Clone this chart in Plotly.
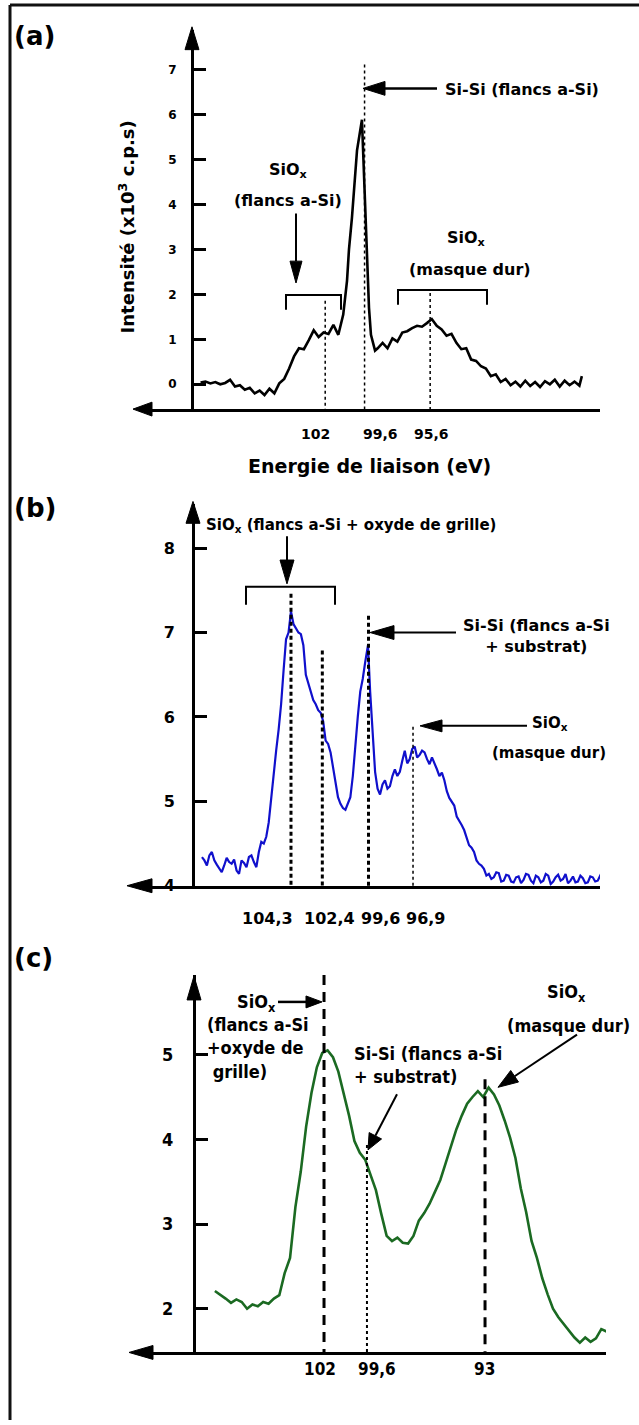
import math
import plotly.graph_objects as go

W, H = 639, 1425

# ---------------- data ----------------
energy_a = [109.6, 109.3, 109.0, 108.7, 108.4, 108.1, 107.8, 107.5, 107.2, 106.9,
            106.6, 106.3, 106.0, 105.7, 105.4, 105.1, 104.8, 104.5, 104.2, 103.9,
            103.6, 103.3, 103.0, 102.7, 102.4, 102.1, 101.8, 101.5, 101.2, 100.9,
            100.67, 100.55, 100.37, 100.06, 99.76, 99.45, 99.33, 99.21, 98.96,
            98.8, 98.5, 98.2, 97.9, 97.6, 97.3, 97.0, 96.7, 96.4, 96.1,
            95.8, 95.5, 95.2, 94.9, 94.6, 94.3, 94.0, 93.7, 93.4, 93.1,
            92.8, 92.5, 92.2, 91.9, 91.6, 91.3, 91.0, 90.7, 90.4, 90.1,
            89.8, 89.5, 89.2, 88.9, 88.6, 88.3, 88.0, 87.7, 87.4, 87.1,
            86.8, 86.5, 86.35]
intensity_a = [0.04, 0.06, 0.02, 0.05, 0.00, 0.03, 0.10, -0.05, -0.02, -0.12,
               -0.08, -0.20, -0.14, -0.24, -0.10, -0.20, 0.02, 0.12, 0.35, 0.62,
               0.80, 0.78, 0.98, 1.20, 1.05, 1.15, 1.12, 1.32, 1.10, 1.55,
               2.30, 3.00, 3.70, 5.20, 5.88, 3.00, 1.70, 1.10, 0.75,
               0.80, 0.92, 0.80, 1.02, 0.95, 1.15, 1.18, 1.25, 1.30, 1.28,
               1.36, 1.45, 1.30, 1.22, 1.08, 1.12, 0.92, 0.78, 0.80, 0.55,
               0.52, 0.40, 0.35, 0.18, 0.22, 0.05, 0.12, -0.02, 0.06, -0.05,
               0.08, -0.04, 0.05, -0.06, 0.07, 0.00, 0.10, -0.05, 0.08, -0.02,
               0.06, -0.03, 0.18]

energy_b = [109.70, 109.55, 109.40, 109.25, 109.10, 108.95, 108.80, 108.65, 108.50, 108.35,
            108.20, 108.05, 107.90, 107.75, 107.60, 107.45, 107.30, 107.15, 107.00, 106.85,
            106.70, 106.55, 106.40, 106.25, 106.10, 105.95, 105.80, 105.65, 105.50, 105.35,
            105.20, 105.05, 104.90, 104.75, 104.60, 104.45, 104.30, 104.15, 104.00, 103.85,
            103.70, 103.55, 103.40, 103.25, 103.10, 102.95, 102.80, 102.65, 102.50, 102.35,
            102.20, 102.05, 101.90, 101.75, 101.60, 101.45, 101.30, 101.15, 101.00, 100.85,
            100.70, 100.55, 100.40, 100.25, 100.10, 99.95, 99.80, 99.63, 99.50, 99.35,
            99.20, 99.05, 98.90, 98.75, 98.60, 98.45, 98.30, 98.15, 98.00, 97.85,
            97.70, 97.55, 97.40, 97.25, 97.10, 96.95, 96.80, 96.65, 96.50, 96.35,
            96.20, 96.05, 95.90, 95.75, 95.60, 95.45, 95.30, 95.15, 95.00, 94.85,
            94.70, 94.55, 94.40, 94.25, 94.10, 93.95, 93.80, 93.65, 93.50, 93.35,
            93.20, 93.05, 92.90, 92.75, 92.60, 92.45, 92.30, 92.15, 92.00, 91.85,
            91.70, 91.55, 91.40, 91.25, 91.10, 90.95, 90.80, 90.65, 90.50, 90.35,
            90.20, 90.05, 89.90, 89.75, 89.60, 89.45, 89.30, 89.15, 89.00, 88.85,
            88.70, 88.55, 88.40, 88.25, 88.10, 87.95, 87.80, 87.65, 87.50, 87.35,
            87.20, 87.05, 86.90, 86.75, 86.60, 86.45, 86.30, 86.15, 86.00, 85.85,
            85.70, 85.55, 85.40]
intensity_b = [4.34, 4.30, 4.24, 4.36, 4.40, 4.30, 4.25, 4.20, 4.16, 4.24,
               4.33, 4.28, 4.26, 4.31, 4.18, 4.14, 4.30, 4.27, 4.22, 4.34,
               4.36, 4.28, 4.22, 4.40, 4.52, 4.50, 4.58, 4.75, 5.05, 5.30,
               5.60, 5.85, 6.15, 6.55, 6.92, 7.00, 7.25, 7.10, 7.05, 7.00,
               6.98, 6.85, 6.50, 6.40, 6.28, 6.20, 6.15, 6.08, 6.05, 5.95,
               5.72, 5.68, 5.58, 5.40, 5.25, 5.05, 4.97, 4.92, 4.90, 4.98,
               5.05, 5.30, 5.70, 6.00, 6.30, 6.45, 6.65, 6.85, 6.30, 5.80,
               5.35, 5.15, 5.08, 5.20, 5.25, 5.15, 5.18, 5.30, 5.38, 5.30,
               5.35, 5.48, 5.60, 5.45, 5.50, 5.62, 5.65, 5.52, 5.55, 5.60,
               5.58, 5.50, 5.44, 5.52, 5.46, 5.38, 5.30, 5.34, 5.25, 5.12,
               5.04, 5.00, 4.95, 4.82, 4.76, 4.72, 4.66, 4.56, 4.48, 4.45,
               4.40, 4.30, 4.26, 4.24, 4.20, 4.12, 4.14, 4.08, 4.10, 4.16,
               4.15, 4.05, 4.06, 4.13, 4.12, 4.05, 4.04, 4.10, 4.11, 4.03,
               4.07, 4.14, 4.13, 4.06, 4.03, 4.12, 4.10, 4.04, 4.06, 4.14,
               4.12, 4.02, 4.05, 4.10, 4.13, 4.06, 4.08, 4.14, 4.03, 4.06,
               4.11, 4.04, 4.05, 4.12, 4.09, 4.03, 4.04, 4.11, 4.10, 4.05,
               4.06, 4.12, 4.09]

energy_c = [108.1, 107.8, 107.5, 107.2, 106.9, 106.6, 106.3, 106.0, 105.7, 105.4,
            105.1, 104.8, 104.5, 104.2, 103.9, 103.6, 103.3, 103.0, 102.7, 102.4,
            102.1, 101.8, 101.5, 101.2, 100.9, 100.6, 100.3, 100.0, 99.7, 99.4,
            99.1, 98.8, 98.5, 98.2, 97.9, 97.6, 97.3, 97.0, 96.7, 96.4,
            96.1, 95.8, 95.5, 95.2, 94.9, 94.6, 94.3, 94.0, 93.7, 93.4,
            93.1, 92.8, 92.5, 92.2, 91.9, 91.6, 91.3, 91.0, 90.7, 90.4,
            90.1, 89.8, 89.5, 89.2, 88.9, 88.6, 88.3, 88.0, 87.7, 87.4,
            87.1, 86.8, 86.5, 86.2]
intensity_c = [2.21, 2.17, 2.12, 2.07, 2.11, 2.08, 2.00, 2.05, 2.03, 2.08,
               2.06, 2.12, 2.16, 2.42, 2.60, 3.20, 3.62, 4.15, 4.55, 4.85,
               5.02, 5.05, 4.97, 4.80, 4.55, 4.28, 3.98, 3.84, 3.76, 3.58,
               3.40, 3.12, 2.86, 2.80, 2.84, 2.78, 2.77, 2.86, 3.04, 3.13,
               3.24, 3.38, 3.52, 3.72, 3.92, 4.12, 4.28, 4.42, 4.50, 4.57,
               4.50, 4.61, 4.53, 4.40, 4.22, 4.02, 3.78, 3.42, 3.14, 2.80,
               2.60, 2.36, 2.17, 2.00, 1.90, 1.82, 1.74, 1.66, 1.60, 1.66,
               1.61, 1.65, 1.76, 1.73]

yticks_a = [0, 1, 2, 3, 4, 5, 6, 7]
yticks_b = [4, 5, 6, 7, 8]
yticks_c = [2, 3, 4, 5]

peaks_a = [102, 99.6, 95.6]
peak_labels_a = ["102", "99,6", "95,6"]
peaks_b = [104.3, 102.4, 99.6, 96.9]
peak_labels_b = ["104,3", "102,4", "99,6", "96,9"]
peaks_c = [102, 99.6, 93]
peak_labels_c = ["102", "99,6", "93"]

# ---------------- helpers ----------------
def X(px):
    return px / W


def Y(py):
    return 1 - py / H


FONT = "DejaVu Sans"
FONT_C = "DejaVu Sans Condensed, DejaVu Sans"

shapes = []
annotations = []


def seg(x0, y0, x1, y1, width=2, dash=None, color="black"):
    shapes.append(dict(type="line", xref="paper", yref="paper",
                       x0=X(x0), y0=Y(y0), x1=X(x1), y1=Y(y1),
                       line=dict(color=color, width=width, dash=dash)))


def head(tip, tail, length, half):
    tx, ty = tip
    sx, sy = tail
    dx, dy = tx - sx, ty - sy
    n = math.hypot(dx, dy)
    ux, uy = dx / n, dy / n
    bx, by = tx - ux * length, ty - uy * length
    ox, oy = -uy * half, ux * half
    pts = [(tx, ty), (bx + ox, by + oy), (bx - ox, by - oy)]
    path = "M " + " L ".join(f"{X(a):.6f},{Y(b):.6f}" for a, b in pts) + " Z"
    shapes.append(dict(type="path", xref="paper", yref="paper", path=path,
                       fillcolor="black", line=dict(color="black", width=1)))
    return bx, by


def arrow(tail, tip, width, length, half):
    bx, by = head(tip, tail, length, half)
    seg(tail[0], tail[1], bx, by, width=width)


def bracket(x0, x1, ytop, yleg, width=2):
    path = (f"M {X(x0):.6f},{Y(yleg):.6f} L {X(x0):.6f},{Y(ytop):.6f} "
            f"L {X(x1):.6f},{Y(ytop):.6f} L {X(x1):.6f},{Y(yleg):.6f}")
    shapes.append(dict(type="path", xref="paper", yref="paper", path=path,
                       line=dict(color="black", width=width)))


def text(px, py, s, size, family=FONT, xanchor="center", yanchor="middle",
         align="center", angle=0):
    annotations.append(dict(xref="paper", yref="paper", x=X(px), y=Y(py),
                            text=s, showarrow=False, xanchor=xanchor,
                            yanchor=yanchor, align=align, textangle=angle,
                            font=dict(family=family, size=size, color="black",
                                      weight="bold")))


def vline(xref, energy, ytop, ybot, width, dash):
    shapes.append(dict(type="line", xref=xref, yref="paper", x0=energy, x1=energy,
                       y0=Y(ytop), y1=Y(ybot),
                       line=dict(color="black", width=width, dash=dash)))


def xlabel(xref, energy, label, py, size, shift, family=FONT):
    annotations.append(dict(xref=xref, yref="paper", x=energy, y=Y(py), text=label,
                            showarrow=False, xanchor="center", yanchor="middle",
                            xshift=shift,
                            font=dict(family=family, size=size, color="black",
                                      weight="bold")))


fig = go.Figure()
fig.add_trace(go.Scatter(x=energy_a, y=intensity_a, xaxis="x", yaxis="y",
                         mode="lines", line=dict(color="black", width=2.6),
                         hoverinfo="skip"))
fig.add_trace(go.Scatter(x=energy_b, y=intensity_b, xaxis="x2", yaxis="y2",
                         mode="lines", line=dict(color="#1010cc", width=2.2),
                         hoverinfo="skip"))
fig.add_trace(go.Scatter(x=energy_c, y=intensity_c, xaxis="x3", yaxis="y3",
                         mode="lines", line=dict(color="#1b6a22", width=2.6),
                         hoverinfo="skip"))


def xax(d0, d1, r0, r1, anchor):
    return dict(domain=[X(d0), X(d1)], range=[r0, r1], anchor=anchor,
                showline=True, linecolor="black", linewidth=3, showgrid=False,
                zeroline=False, ticks="", showticklabels=False, fixedrange=True)


def yax(top, bottom, r0, r1, pos, vals, size, standoff, family=FONT):
    return dict(domain=[Y(bottom), Y(top)], range=[r0, r1], anchor="free",
                position=X(pos), showline=True, linecolor="black", linewidth=3,
                showgrid=False, zeroline=False, ticks="inside", ticklen=12,
                tickwidth=2.5, tickcolor="black", tickvals=vals,
                tickfont=dict(family=family, size=size, color="black", weight="bold"),
                ticklabelstandoff=standoff, fixedrange=True)


fig.update_layout(
    width=W, height=H, margin=dict(l=0, r=0, t=0, b=0),
    paper_bgcolor="white", plot_bgcolor="rgba(0,0,0,0)", showlegend=False,
    xaxis=xax(140, 600, (1998 - 140) / 16.4, (1998 - 600) / 16.4, "y"),
    yaxis=yax(30, 412, (387 - 412) / 45.3, (387 - 30) / 45.3, 192, yticks_a, 12, 12),
    xaxis2=xax(140, 600, (2010.9 - 140) / 16.49, (2010.9 - 600) / 16.49, "y2"),
    yaxis2=yax(508, 892, 4, 4 + (892 - 508) / 85, 193, yticks_b, 16, 14),
    xaxis3=xax(140, 606, (2148.8 - 140) / 17.89, (2148.8 - 606) / 17.89, "y3"),
    yaxis3=yax(982, 1362, 2 - 44 / 85.3, 2 + (1318 - 982) / 85.3, 194, yticks_c, 18, 16, FONT_C),
)

# ---------------- frame ----------------
seg(10, 1430, 10, 5, width=3, color="#111111")
seg(10, 5, 650, 5, width=3, color="#111111")

# ---------------- panel (a) ----------------
text(12, 36, "(a)", 26, xanchor="left")
head((192, 27), (192, 60), 23, 7)
head((133, 412), (160, 412), 19, 7)
for e, top in zip(peaks_a, [303, 65, 295]):
    vline("x", e, top, 412, 1.5, "3px,3px")
for e, lab, sh in zip(peaks_a, peak_labels_a, [-10, 16, 1]):
    xlabel("x", e, lab, 437, 14, sh)
text(369, 469, "Energie de liaison (eV)", 19)
text(127, 229, "Intensité (x10<sup>3</sup> c.p.s)", 18, angle=-90)
bracket(286, 341, 297, 312)
bracket(398, 487, 292, 307)
arrow((296, 215), (296, 285), 2, 22, 6)
text(288, 172, "SiO<sub>x</sub>", 16)
text(288, 202, "(flancs a-Si)", 16)
arrow((437, 89), (363, 89), 2.5, 22, 7)
text(443, 90, "Si-Si (flancs a-Si)", 16, xanchor="left")
text(466, 240, "SiO<sub>x</sub>", 16)
text(470, 271, "(masque dur)", 16)

# ---------------- panel (b) ----------------
text(12, 512, "(b)", 26, xanchor="left")
head((193, 505), (193, 540), 22, 7)
head((127, 892), (160, 892), 25, 7)
for e, top, wd, ds in zip(peaks_b, [598, 655, 620, 732], [3, 3, 3, 1.5],
                          ["4px,3px", "4px,3px", "4px,3px", "3px,3px"]):
    vline("x2", e, top, 892, wd, ds)
for e, lab, sh in zip(peaks_b, peak_labels_b, [-23, 7, 12, 12]):
    xlabel("x2", e, lab, 925, 16, sh)
bracket(246, 335, 591, 609)
arrow((287, 540), (287, 588), 2, 24, 7)
text(204, 529, "SiO<sub>x</sub> (flancs a-Si + oxyde de grille)", 15, xanchor="left")
arrow((456, 637), (370, 637), 2, 24, 7)
text(536, 640, "Si-Si (flancs a-Si<br>+ substrat)", 16)
arrow((527, 731), (420, 731), 2, 22, 6)
text(550, 729, "SiO<sub>x</sub>", 15)
text(549, 758, "(masque dur)", 15)

# ---------------- panel (c) ----------------
text(12, 965, "(c)", 26, xanchor="left")
head((194, 983), (194, 1020), 24, 7)
head((129, 1362), (160, 1362), 24, 7)
for e, top, wd, ds in zip(peaks_c, [982, 1153, 1087], [3, 2, 3],
                          ["10px,7px", "3px,3px", "10px,7px"]):
    vline("x3", e, top, 1362, wd, ds)
for e, lab, sh in zip(peaks_c, peak_labels_c, [-4, 10, -1]):
    xlabel("x3", e, lab, 1379, 17, sh, FONT_C)
text(235, 1010, "SiO<sub>x</sub>", 18, FONT_C, xanchor="left")
arrow((278, 1009), (322, 1009), 2.5, 16, 6)
text(205, 1055, "(flancs a-Si<br>+oxyde de<br> grille)", 18, FONT_C,
     xanchor="left", align="left")
text(352, 1073, "Si-Si (flancs a-Si<br>+ substrat)", 18, FONT_C,
     xanchor="left", align="left")
arrow((397, 1102), (368, 1158), 2, 16, 7)
text(566, 1000, "SiO<sub>x</sub>", 18, FONT_C)
text(568, 1033, "(masque dur)", 18, FONT_C)
arrow((577, 1042), (498, 1095), 2, 20, 7)

fig.update_layout(shapes=shapes, annotations=annotations)
fig.write_html("out.html", config={"displayModeBar": False},
               post_script="document.body.style.margin='0px';"
                           "document.body.style.overflow='hidden';")
